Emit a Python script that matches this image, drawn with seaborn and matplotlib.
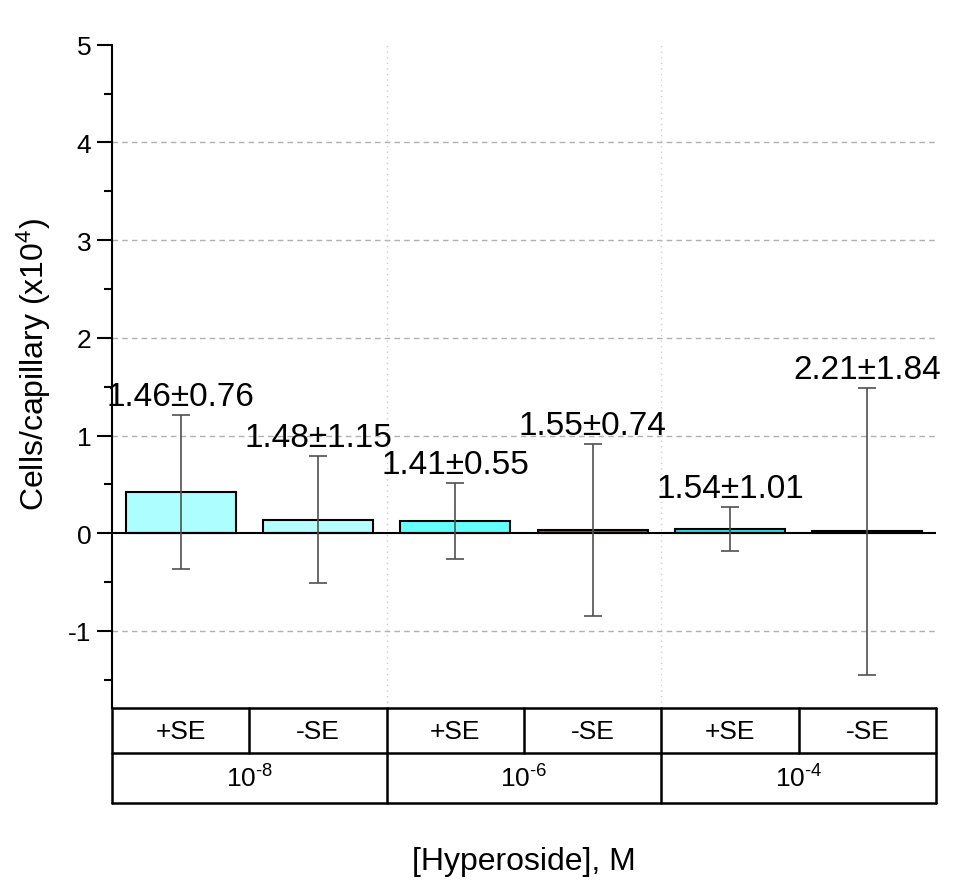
import matplotlib
matplotlib.use("Agg")
import matplotlib.pyplot as plt
import seaborn as sns
import numpy as np
import pandas as pd

# data
bar_ids = ["p8", "m8", "p6", "m6", "p4", "m4"]
se_labels = ["+SE", "-SE", "+SE", "-SE", "+SE", "-SE"]
conc_labels = ["10$^{\\text{-8}}$", "10$^{\\text{-6}}$", "10$^{\\text{-4}}$"]
means = [0.42, 0.14, 0.125, 0.03, 0.045, 0.02]
errors = [0.79, 0.65, 0.385, 0.88, 0.225, 1.47]
annotations = ["1.46\u00b10.76", "1.48\u00b11.15", "1.41\u00b10.55",
               "1.55\u00b10.74", "1.54\u00b11.01", "2.21\u00b11.84"]
bar_colors = ["#adffff", "#b5ffff", "#66ffff", "#2e8585", "#33e0e0", "#000000"]

sns.set_theme(style="white")
plt.rcParams["font.family"] = ["Liberation Sans", "DejaVu Sans"]
plt.rcParams["mathtext.fontset"] = "custom"
plt.rcParams["mathtext.rm"] = "Liberation Sans"
plt.rcParams["mathtext.it"] = "Liberation Sans"
plt.rcParams["mathtext.default"] = "regular"
plt.rcParams["axes.unicode_minus"] = False
plt.rcParams["text.color"] = "black"
plt.rcParams["axes.labelcolor"] = "black"
plt.rcParams["ytick.color"] = "black"

df = pd.DataFrame({"bar": bar_ids, "mean": means, "err": errors})

fig = plt.figure(figsize=(9.74, 8.95), dpi=100)
ax = fig.add_axes([0.115, 0.2078, 0.846, 0.741])

sns.barplot(data=df, x="bar", y="mean", hue="bar", palette=bar_colors,
            order=bar_ids, legend=False, width=0.8, edgecolor="black",
            linewidth=1.5, saturation=1, ax=ax, zorder=3)

xs = np.arange(len(bar_ids))
ax.errorbar(xs, df["mean"], yerr=df["err"], fmt="none", ecolor="#505050",
            elinewidth=1.2, capsize=6.5, capthick=1.2, zorder=4)

for x, m, e, txt in zip(xs, means, errors, annotations):
    ax.text(x, m + e + 0.03, txt, ha="center", va="bottom", fontsize=24,
            color="black", zorder=5)

ax.set_xlim(-0.5, 5.5)
ax.set_ylim(-1.79, 5)
ax.set_yticks([-1, 0, 1, 2, 3, 4, 5])
ax.set_yticks(np.arange(-1.5, 5.0, 0.5), minor=True)
ax.tick_params(axis="y", which="major", direction="out", length=11, width=1.5,
               labelsize=19, left=True, pad=4, colors="black")
ax.tick_params(axis="y", which="minor", direction="out", length=6, width=1.5,
               left=True, colors="black")
ax.set_xticks([])
ax.set_xlabel("")
ax.set_ylabel("Cells/capillary (x10$^{4}$)", fontsize=23)
ax.yaxis.set_label_coords(-0.072, 0.52)

for sp in ["top", "right", "bottom"]:
    ax.spines[sp].set_visible(False)
ax.spines["left"].set_linewidth(1.5)
ax.spines["left"].set_color("black")

for yv in [-1, 1, 2, 3, 4]:
    ax.axhline(yv, color="#b0b0b0", linestyle=(0, (4, 3)), linewidth=1, zorder=0)
for xv in [1.5, 3.5]:
    ax.axvline(xv, color="#cfcfcf", linestyle=(0, (1, 3)), linewidth=1, zorder=0)
ax.axhline(0, color="black", linewidth=1.5, zorder=3.5)

# category table below the plot
tax = fig.add_axes([0.115, 0.1017, 0.846, 0.1061])
tax.set_xlim(-0.5, 5.5)
tax.set_ylim(0, 1)
tax.axis("off")
mid = 0.526
lw = 1.8
for yv in [0, mid, 1]:
    tax.plot([-0.5, 5.5], [yv, yv], color="black", lw=lw, clip_on=False)
for xv in [-0.5, 1.5, 3.5, 5.5]:
    tax.plot([xv, xv], [0, 1], color="black", lw=lw, clip_on=False)
for xv in [0.5, 2.5, 4.5]:
    tax.plot([xv, xv], [mid, 1], color="black", lw=lw, clip_on=False)
for x, lab in zip(xs, se_labels):
    tax.text(x, (mid + 1) / 2, lab, ha="center", va="center", fontsize=19)
for i, lab in enumerate(conc_labels):
    tax.text(2 * i + 0.5, mid / 2, lab, ha="center", va="center", fontsize=19)

fig.text(0.538, 0.037, "[Hyperoside], M", ha="center", va="center", fontsize=23)

fig.savefig("out.png", dpi=100)
